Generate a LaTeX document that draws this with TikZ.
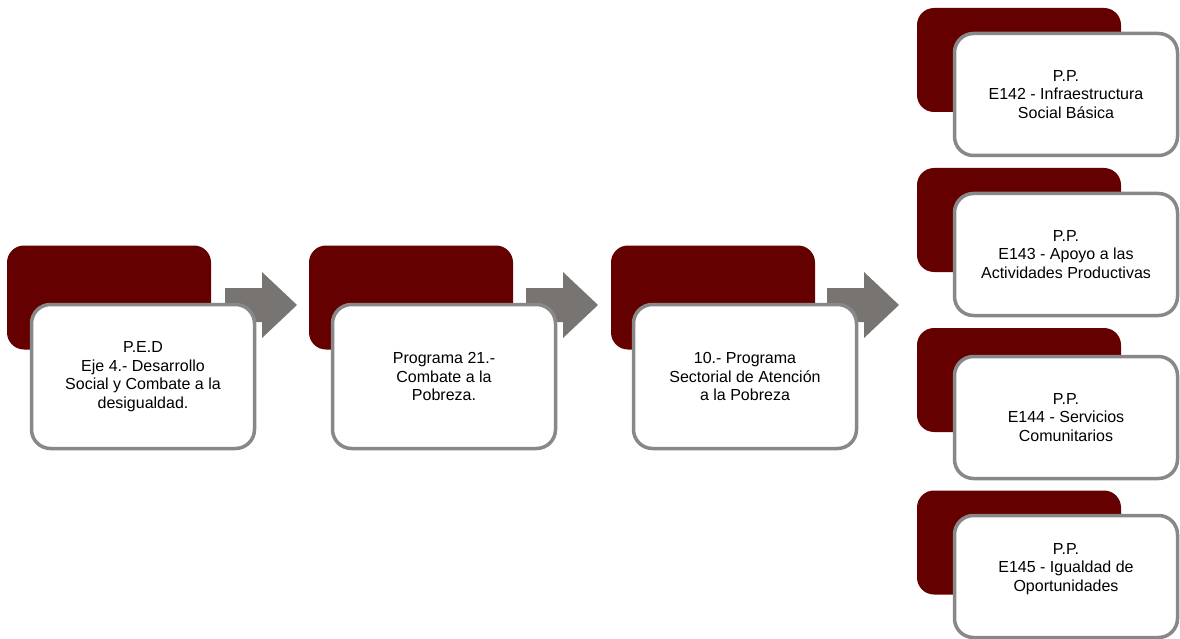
\documentclass[tikz,border=0pt]{standalone}
\usepackage{fontspec}
\setmainfont{Liberation Sans}
\definecolor{darkred}{RGB}{100,0,0}
\definecolor{arrowgray}{RGB}{120,116,114}
\definecolor{bordergray}{RGB}{136,136,136}
\tikzset{
  darkbox/.style={fill=darkred, draw=none, rounded corners=17pt, minimum width=204pt, minimum height=104pt, inner sep=0pt},
  whitebox/.style={fill=white, draw=bordergray, line width=3.5pt, rounded corners=19pt, minimum width=223pt, minimum height=144pt, inner sep=0pt, align=center, font=\fontsize{16}{18.5}\selectfont},
  rwhitebox/.style={whitebox, minimum height=122pt},
  blockarrow/.style={fill=arrowgray, draw=none},
  txt/.style={align=center, font=\fontsize{16}{18.5}\selectfont, inner sep=0pt}
}
\newcommand{\blockarr}[1]{%
  \fill[blockarrow] (#1,288) -- (#1+37,288) -- (#1+37,272) -- (#1+72,305) -- (#1+37,338) -- (#1+37,322) -- (#1,322) -- cycle;}
\begin{document}
\begin{tikzpicture}[x=1pt,y=-1pt]
\useasboundingbox (0,0) rectangle (1180,639);
% left row
\node[darkbox] (d1) at (109,297.5) {};
\node[darkbox] (d2) at (411,297.5) {};
\node[darkbox] (d3) at (713,297.5) {};
\blockarr{225}
\blockarr{526}
\blockarr{827}
\node[whitebox] (w1) at (143,376.5) {P.E.D\\Eje 4.- Desarrollo\\Social y Combate a la\\desigualdad.};
\node[whitebox] (w2) at (444,376.5) {Programa 21.-\\Combate a la\\Pobreza.};
\node[whitebox] (w3) at (745,376.5) {10.- Programa\\Sectorial de Atención\\a la Pobreza};
% right column
\node[darkbox] (r1) at (1019,60) {};
\node[rwhitebox] (s1) at (1066,94.5) {P.P.\\E142 - Infraestructura\\Social Básica};
\node[darkbox] (r2) at (1019,220) {};
\node[rwhitebox] (s2) at (1066,254.5) {P.P.\\E143 - Apoyo a las\\Actividades Productivas};
\node[darkbox] (r3) at (1019,380) {};
\node[rwhitebox] (s3) at (1066,417.5) {P.P.\\E144 - Servicios\\Comunitarios};
\node[darkbox] (r4) at (1019,542.5) {};
\node[rwhitebox] (s4) at (1066,576.5) {};
\node[txt] (t4) at (1066,569) {P.P.\\E145 - Igualdad de\\Oportunidades};
\end{tikzpicture}
\end{document}
